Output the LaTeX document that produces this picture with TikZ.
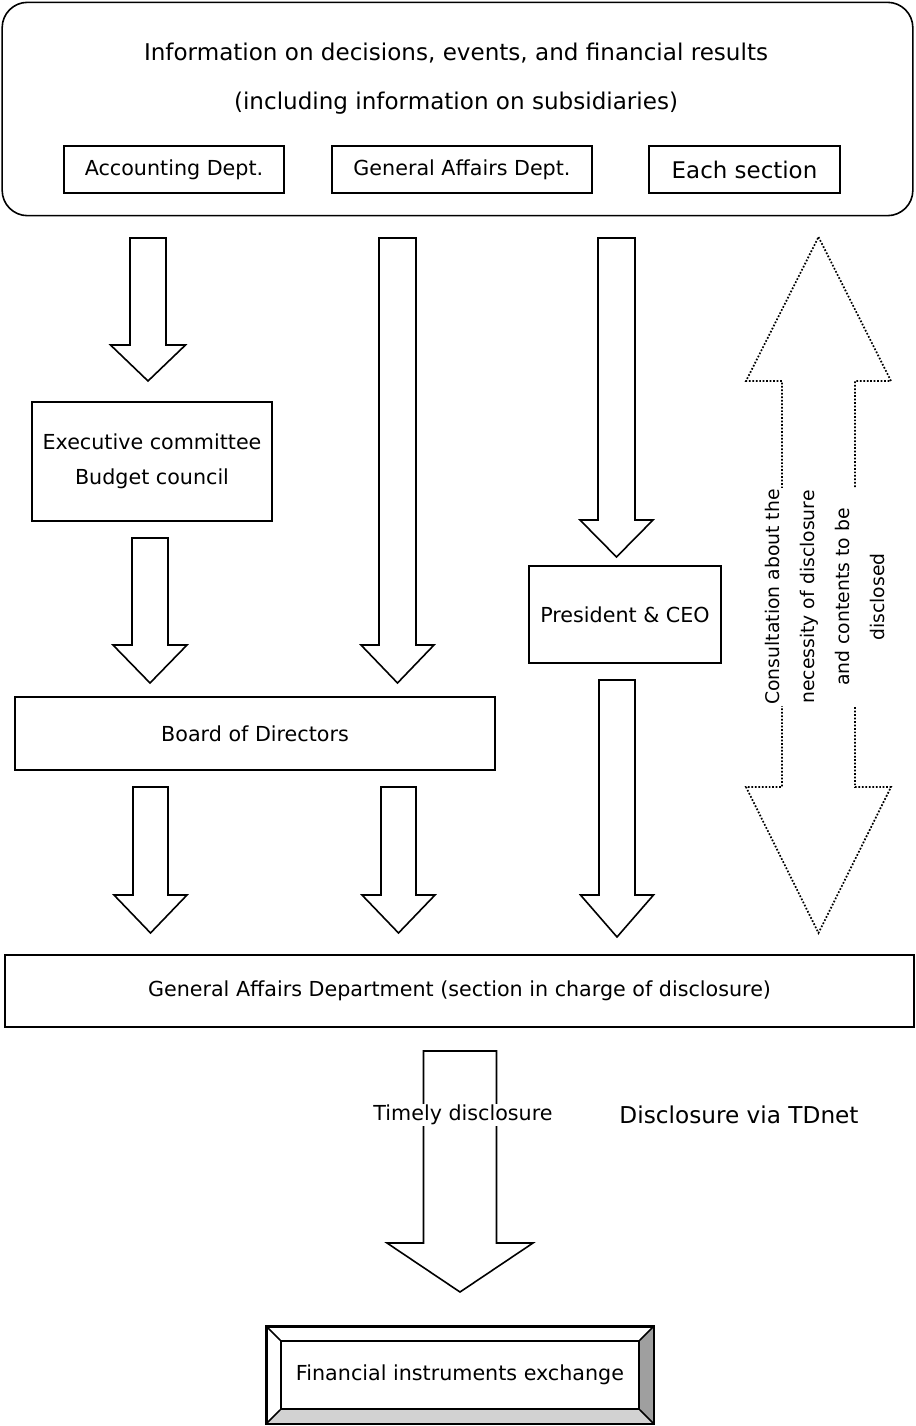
\documentclass[tikz,border=0pt]{standalone}
\usepackage{fontspec}
\setmainfont{DejaVu Sans}

\tikzstyle{box}=[draw, line width=1.2pt, inner sep=0pt, align=center, font=\fontsize{15.5}{26}\selectfont]
\tikzstyle{fat}=[draw, line width=1.2pt, fill=white, line join=miter]
\tikzstyle{dotarrow}=[draw, line width=1.3pt, dash pattern=on 1.3pt off 1.3pt]
\tikzstyle{lbl}=[inner sep=1pt, font=\fontsize{15.5}{26}\selectfont]

% x, half shaft, half head, top, head base, tip
\newcommand{\fatarrow}[6]{%
  \draw[fat] (#1-#2,#4) -- (#1-#2,#5) -- (#1-#3,#5) -- (#1,#6)
    -- (#1+#3,#5) -- (#1+#2,#5) -- (#1+#2,#4) -- cycle;}

\begin{document}
\begin{tikzpicture}[x=0.75pt, y=-0.75pt]
\useasboundingbox (0,0) rectangle (915,1426);

% source of information
\node[box, rounded corners=19pt, minimum width=683pt, minimum height=160pt] (info) at (457.5,109) {};
\node[lbl, font=\fontsize{17.3}{20}\selectfont] (info1) at (456,53) {Information on decisions, events, and financial results};
\node[lbl, font=\fontsize{17.3}{20}\selectfont] (info2) at (456,103) {(including information on subsidiaries)};
\node[box, minimum width=165pt, minimum height=35.25pt] (acc) at (174,169.5) {Accounting Dept.};
\node[box, minimum width=195pt, minimum height=35.25pt] (ga) at (462,169.5) {General Affairs Dept.};
\node[box, minimum width=143.25pt, minimum height=35.25pt, font=\fontsize{17.2}{20}\selectfont] (each) at (744.5,169.5) {Each section};

% decision bodies
\node[box, minimum width=180pt, minimum height=89.25pt] (exec) at (152,461.5) {Executive committee\\Budget council};
\node[box, minimum width=144pt, minimum height=72.75pt] (pres) at (625,614.5) {President \& CEO};
\node[box, minimum width=360pt, minimum height=54.75pt] (board) at (255,733.5) {Board of Directors};
\node[box, minimum width=681.75pt, minimum height=54pt] (gad) at (459.5,991) {General Affairs Department (section in charge of disclosure)};

% flows
\fatarrow{148}{18}{37.5}{238}{345}{381}
\fatarrow{150}{18}{37}{538}{645}{683}
\fatarrow{397.5}{18.5}{36.5}{238}{645}{683}
\fatarrow{616.5}{18.5}{36.5}{238}{520}{557}
\fatarrow{150.5}{17.5}{36.5}{787}{895}{933}
\fatarrow{398.5}{17.5}{36.5}{787}{895}{933}
\fatarrow{617}{18}{36.5}{680}{895}{937}
\fatarrow{460}{36.5}{73}{1051}{1243}{1292}

% consultation
\draw[dotarrow] (818.5,237) -- (891,381) -- (855,381) -- (855,787) -- (891,787)
  -- (818.5,933) -- (746,787) -- (782,787) -- (782,381) -- (746,381) -- cycle;
\node[lbl, rotate=90, fill=white, align=center, font=\fontsize{14.1}{26.25}\selectfont] (consult) at (825,597)
  {Consultation about the\\necessity of disclosure\\and contents to be\\disclosed};

\node[lbl, fill=white] (timely) at (463,1115) {Timely disclosure};
\node[lbl, font=\fontsize{17.4}{20}\selectfont] (tdnet) at (739,1115) {Disclosure via TDnet};

% exchange
\node[box, minimum width=289.5pt, minimum height=72pt] (fie) at (460,1375) {};
\fill[gray!75] (fie.north east) -- (fie.south east) -- ([shift={(-10.5pt,10.5pt)}]fie.south east) -- ([shift={(-10.5pt,-10.5pt)}]fie.north east) -- cycle;
\fill[gray!35] (fie.south west) -- (fie.south east) -- ([shift={(-10.5pt,10.5pt)}]fie.south east) -- ([shift={(10.5pt,10.5pt)}]fie.south west) -- cycle;
\node[box, minimum width=268.5pt, minimum height=51pt, fill=white] (fiein) at (fie.center) {Financial instruments exchange};
\draw[line width=1.2pt] (fie.north west) -- (fiein.north west) (fie.north east) -- (fiein.north east)
  (fie.south west) -- (fiein.south west) (fie.south east) -- (fiein.south east);
\draw[line width=1.2pt] (fie.north west) rectangle (fie.south east);
\end{tikzpicture}
\end{document}
